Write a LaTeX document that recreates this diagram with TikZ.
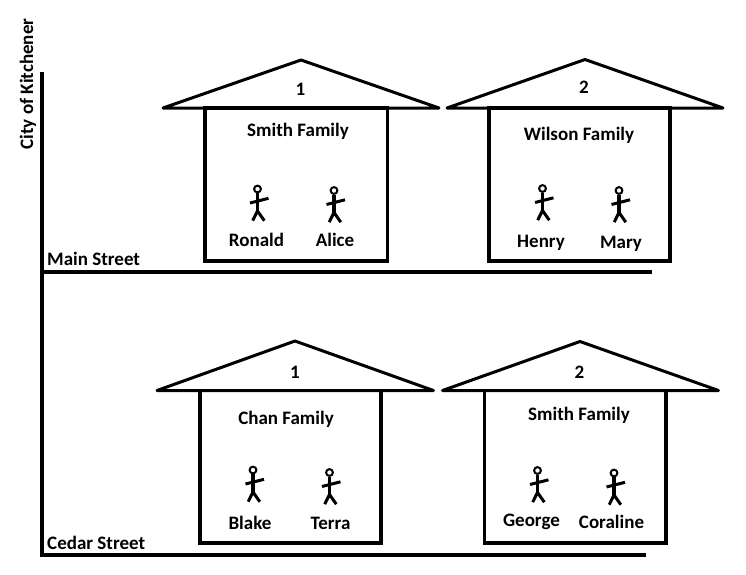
\documentclass[tikz,border=0pt]{standalone}
\usepackage{fontspec}
\setmainfont{Carlito}
\usepackage{tikz}
\def\stickman(#1,#2){\begin{scope}[shift={(#1,#2)}]
	\draw[line width=2pt] (0, 0) circle (3.4);
	\draw[line width=3.2pt] (0, 4) -- (0, 23);
	\draw[line width=3pt] (-7.5, 14) -- (11, 9.3);
	\draw[line width=3pt, line join=round] (-4.8, 31.7) -- (0, 22) -- (6.8, 31.7);
\end{scope}}

\begin{document}
\begin{tikzpicture}[x=1pt, y=-1pt,
	street/.style={line width=3.4pt},
	wall/.style={line width=3.4pt},
	roof/.style={line width=3pt, line join=round},
	lbl/.style={font=\fontsize{19}{22}\selectfont\bfseries, inner sep=0pt}]
			%%%%% START %%%%%
			\useasboundingbox (0, 0) rectangle (746, 574);
			
			\draw[street] (42, 72) -- (42, 557);
			\draw[street] (42, 272) -- (652, 272);
			\draw[street] (42, 555) -- (646, 555);
			\node[lbl, rotate=90] (city) at (28, 84) {City of Kitchener};
			\node[lbl, anchor=west] (main) at (47, 259) {Main Street};
			\node[lbl, anchor=west] (cedar) at (47, 543) {Cedar Street};
			
			% Main Street 1
			\draw[roof] (163, 108) -- (301, 60) -- (439, 108) -- cycle;
			\draw[wall] (205, 108) rectangle (387.5, 261);
			\node[lbl] (num1) at (300.5, 89) {1};
			\node[lbl] (smith1) at (298, 131.5) {Smith Family};
			\stickman(257.5, 189);
			\stickman(334, 190.5);
			\node[lbl] (ronald) at (256.5, 240) {Ronald};
			\node[lbl] (alice) at (335, 240) {Alice};
			
			% Main Street 2
			\draw[roof] (447, 108) -- (585, 59.5) -- (723, 108) -- cycle;
			\draw[wall] (489, 108) rectangle (670, 261);
			\node[lbl] (num2) at (584, 87.5) {2};
			\node[lbl] (wilson) at (579, 135) {Wilson Family};
			\stickman(542.5, 188.5);
			\stickman(619, 190.5);
			\node[lbl] (henry) at (541, 242.5) {Henry};
			\node[lbl] (mary) at (621, 244) {Mary};
			
			% Cedar Street 1
			\draw[roof] (157, 390.5) -- (295, 341) -- (433.5, 390.5) -- cycle;
			\draw[wall] (200, 390.5) rectangle (381, 543);
			\node[lbl] (num3) at (295, 372) {1};
			\node[lbl] (chan) at (286, 419) {Chan Family};
			\stickman(253, 470);
			\stickman(329.5, 472.5);
			\node[lbl] (blake) at (250, 523) {Blake};
			\node[lbl] (terra) at (330.5, 523) {Terra};
			
			% Cedar Street 2
			\draw[roof] (442.5, 390.5) -- (580, 341.5) -- (718.5, 390.5) -- cycle;
			\draw[wall] (484.5, 390.5) rectangle (666, 543);
			\node[lbl] (num4) at (579.5, 372.5) {2};
			\node[lbl] (smith2) at (579, 415) {Smith Family};
			\stickman(537.5, 470.5);
			\stickman(614, 473);
			\node[lbl] (george) at (531.5, 521.5) {George};
			\node[lbl] (coraline) at (611.5, 521.5) {Coraline};
			
			%%%%% END %%%%%
		\end{tikzpicture}
\end{document}
